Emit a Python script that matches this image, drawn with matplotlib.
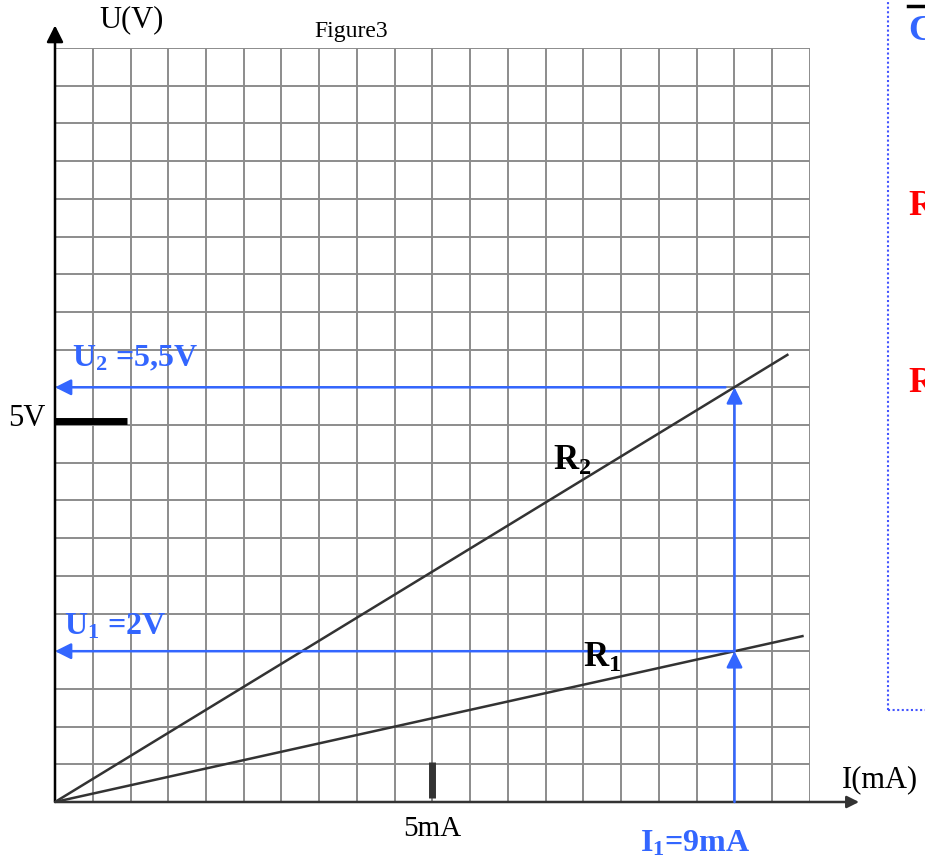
import numpy as np
import matplotlib.pyplot as plt

# Readings from figure 3 (I in mA, U in V)
grid_steps = np.arange(0, 10.01, 0.5)
r1_current = [0, 9.9]
r1_voltage = [0, 2.2]
r2_current = [0, 9.7]
r2_voltage = [0, 5.93]
I1 = 9
U1 = 2
U2 = 5.5

blue = '#3366ff'
plt.rcParams['font.family'] = 'Liberation Serif'
plt.rcParams['mathtext.fontset'] = 'custom'
plt.rcParams['mathtext.rm'] = 'Liberation Serif:bold'
plt.rcParams['mathtext.it'] = 'Liberation Serif:bold'
plt.rcParams['mathtext.bf'] = 'Liberation Serif:bold'

fig = plt.figure(figsize=(9.25, 8.58), dpi=100)
ax = fig.add_axes([55 / 925, 56 / 858, 755 / 925, 754 / 858])
ax.set_xlim(0, 10)
ax.set_ylim(0, 10)
ax.axis('off')

# Graph paper
for g in grid_steps:
    ax.plot([g, g], [0, 10], color='#8c8c8c', lw=1.4, zorder=1)
    ax.plot([0, 10], [g, g], color='#8c8c8c', lw=1.4, zorder=1)

# Axes with arrows
ax.annotate('', xy=(0, 10.3), xytext=(0, 0),
            arrowprops=dict(arrowstyle='-|>', color='black', lw=1.8,
                            mutation_scale=25, shrinkA=0, shrinkB=0),
            annotation_clip=False)
ax.annotate('', xy=(10.65, 0), xytext=(0, 0),
            arrowprops=dict(arrowstyle='-|>', color='#333333', lw=1.8,
                            mutation_scale=18, shrinkA=0, shrinkB=0),
            annotation_clip=False)

# Characteristic lines
ax.plot(r2_current, r2_voltage, color='#333333', lw=1.8, zorder=3)
ax.plot(r1_current, r1_voltage, color='#333333', lw=1.8, zorder=3)

# Scale marks
ax.plot([0, 0.95], [5.05, 5.05], color='black', lw=5, solid_capstyle='butt', zorder=4)
ax.plot([5, 5], [0.05, 0.53], color='#333333', lw=5, solid_capstyle='butt', zorder=4)

# Reading arrows
arrow_kw = dict(arrowstyle='-|>', color=blue, lw=1.8, mutation_scale=24,
                shrinkA=0, shrinkB=0)
ax.annotate('', xy=(I1, U1), xytext=(I1, 0), arrowprops=arrow_kw, zorder=5)
ax.annotate('', xy=(I1, U2), xytext=(I1, U1), arrowprops=arrow_kw, zorder=5)
ax.annotate('', xy=(0, U1), xytext=(I1, U1), arrowprops=arrow_kw, zorder=5)
ax.annotate('', xy=(0, U2), xytext=(I1 - 0.12, U2), arrowprops=arrow_kw, zorder=5)

# Labels
ax.text(1.02, 10.37, 'U(V)', fontsize=22, ha='center', va='center', clip_on=False)
ax.text(3.92, 10.22, 'Figure3', fontsize=17, ha='center', va='center', clip_on=False)
ax.text(-0.12, 5.09, '5V', fontsize=22, ha='right', va='center', clip_on=False)
ax.text(5.0, -0.36, '5mA', fontsize=21, ha='center', va='center', clip_on=False)
ax.text(10.42, 0.3, 'I(mA)', fontsize=22, ha='left', va='center', clip_on=False)

bold_blue = dict(fontsize=23, color=blue, fontweight='bold', ha='left',
                 va='center', clip_on=False)
ax.text(0.22, 5.88, 'U$_2$ =5,5V', **bold_blue)
ax.text(0.12, 2.33, 'U$_1$ =2V', **bold_blue)
ax.text(7.75, -0.56, 'I$_1$=9mA', **bold_blue)
ax.text(6.6, 4.52, 'R$_2$', fontsize=25, color='black', fontweight='bold',
        ha='left', va='center', zorder=6)
ax.text(6.99, 1.9, 'R$_1$', fontsize=25, color='black', fontweight='bold',
        ha='left', va='center', zorder=6)

# Side panel (cut off at the right edge)
ax.plot([11.03, 11.03], [1.22, 11.0], color='#4455ff', lw=1.5, ls=(0, (1, 1.2)),
        clip_on=False)
ax.plot([11.03, 11.6], [1.22, 1.22], color='#4455ff', lw=1.5, ls=(0, (1, 1.2)),
        clip_on=False)
ax.plot([11.3, 11.6], [10.56, 10.56], color='black', lw=2.5, clip_on=False)
ax.text(11.3, 10.22, 'C', fontsize=26, color=blue, fontweight='bold',
        ha='left', va='center', clip_on=False)
ax.text(11.3, 7.9, 'R', fontsize=26, color='red', fontweight='bold',
        ha='left', va='center', clip_on=False)
ax.text(11.3, 5.55, 'R', fontsize=26, color='red', fontweight='bold',
        ha='left', va='center', clip_on=False)

fig.savefig('out.png', dpi=100)
